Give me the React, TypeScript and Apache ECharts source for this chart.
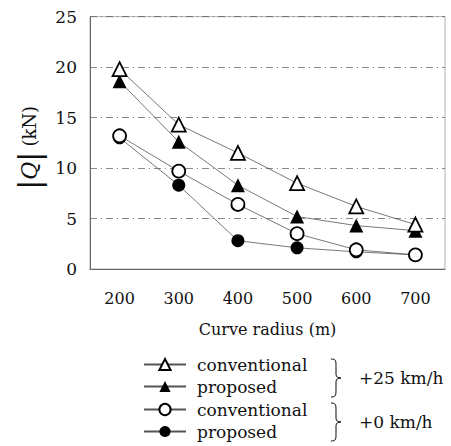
import React, { useEffect, useRef } from "react";
import * as echarts from "echarts";

const radii = ["200", "300", "400", "500", "600", "700"];
const yTicks = [0, 5, 10, 15, 20, 25];
const conv25 = [19.8, 14.3, 11.5, 8.5, 6.2, 4.4];
const prop25 = [18.6, 12.6, 8.3, 5.2, 4.3, 3.8];
const conv0 = [13.2, 9.7, 6.4, 3.5, 1.9, 1.4];
const prop0 = [13.0, 8.3, 2.8, 2.1, 1.7, 1.4];
const legendLabels: Record<string, string> = {
  conv25: "conventional",
  prop25: "proposed",
  conv0: "conventional",
  prop0: "proposed",
};
const groupLabels = ["+25 km/h", "+0 km/h"];

const SERIF = "'DejaVu Serif', 'Liberation Serif', serif";

echarts.graphic.registerShape(
  "brace",
  echarts.graphic.extendPath(
    "M0,0 C5,0 5,2 5,8 L5,16 C5,19 7,20 10,20 C7,20 5,21 5,24 L5,32 C5,38 5,40 0,40",
    {}
  )
);

export default function App() {
  const ref = useRef<HTMLDivElement>(null);
  useEffect(() => {
    if (!ref.current) return;
    const chart = echarts.init(ref.current, null, { renderer: "svg" });
    const lineStyle = { color: "#555", width: 0.8 };
    const mk = (name: string, data: number[], symbol: string, filled: boolean, size: number) => ({
      name,
      type: "line",
      data,
      symbol,
      symbolSize: size,
      showSymbol: true,
      lineStyle,
      itemStyle: {
        color: filled ? "#000" : "#fff",
        borderColor: "#000",
        borderWidth: filled ? 0 : 1.8,
      },
      z: filled ? 3 : 4,
    });
    const legendBase = {
      orient: "vertical",
      left: 143,
      padding: 0,
      itemWidth: 42,
      itemHeight: 14,
      itemGap: 5,
      formatter: (n: string) => legendLabels[n],
      textStyle: { fontSize: 17, color: "#111", fontFamily: SERIF, padding: [0, 0, 0, 6] },
    };
    chart.setOption({
      animation: false,
      backgroundColor: "#fff",
      textStyle: { fontFamily: SERIF },
      grid: { left: 90, right: 6, top: 16.7, bottom: 177, show: true, borderColor: "#999", borderWidth: 0.8 },
      xAxis: {
        type: "category",
        data: radii,
        boundaryGap: true,
        axisLine: { show: true, lineStyle: { color: "#666", width: 1 } },
        axisTick: { show: false },
        axisLabel: { fontSize: 16, color: "#111", margin: 21, fontFamily: SERIF },
        name: "Curve radius (m)",
        nameLocation: "middle",
        nameGap: 52,
        nameTextStyle: { fontSize: 16, color: "#111", fontFamily: SERIF },
      },
      yAxis: {
        type: "value",
        min: 0,
        max: 25,
        interval: 5,
        axisLine: { show: true, lineStyle: { color: "#666", width: 1 } },
        axisTick: { show: false },
        axisLabel: {
          fontSize: 17,
          color: "#111",
          margin: 13,
          fontFamily: SERIF,
          formatter: (v: number) => (yTicks.includes(v) ? String(v) : ""),
        },
        splitLine: { show: true, lineStyle: { color: "#555", width: 0.7, type: [7, 4, 1, 4] } },
        name: "{bar||}{q|Q}{bar||}{kn|(kN)}",
        nameLocation: "middle",
        nameGap: 46,
        nameRotate: 90,
        nameTextStyle: {
          color: "#111",
          fontFamily: SERIF,
          padding: [0, 10, 0, 0],
          rich: {
            bar: { fontSize: 30, fontFamily: SERIF, color: "#111" },
            q: { fontSize: 22, fontStyle: "italic", fontFamily: SERIF, color: "#111" },
            kn: { fontSize: 18, fontFamily: SERIF, color: "#111", padding: [0, 0, 0, 5] },
          },
        },
      },
      legend: [
        { ...legendBase, top: 356, data: ["conv25", "prop25"] },
        { ...legendBase, top: 401, data: ["conv0", "prop0"] },
      ],
      graphic: [
        { type: "brace", x: 331, y: 359, scaleX: 1, scaleY: 38 / 40, style: { stroke: "#000", fill: "none", lineWidth: 1 } },
        { type: "brace", x: 331, y: 403, scaleX: 1, scaleY: 38 / 40, style: { stroke: "#000", fill: "none", lineWidth: 1 } },
        { type: "text", x: 359, y: 378, style: { text: groupLabels[0], font: `17px ${SERIF}`, fill: "#111", textVerticalAlign: "middle" } },
        { type: "text", x: 359, y: 422, style: { text: groupLabels[1], font: `17px ${SERIF}`, fill: "#111", textVerticalAlign: "middle" } },
      ],
      series: [
        mk("conv25", conv25, "triangle", false, 14),
        mk("prop25", prop25, "triangle", true, 14),
        mk("conv0", conv0, "circle", false, 13),
        mk("prop0", prop0, "circle", true, 13),
      ],
    });
    return () => chart.dispose();
  }, []);
  return <div ref={ref} style={{ width: 451, height: 446, position: "absolute", left: 0, top: 0 }} />;
}
